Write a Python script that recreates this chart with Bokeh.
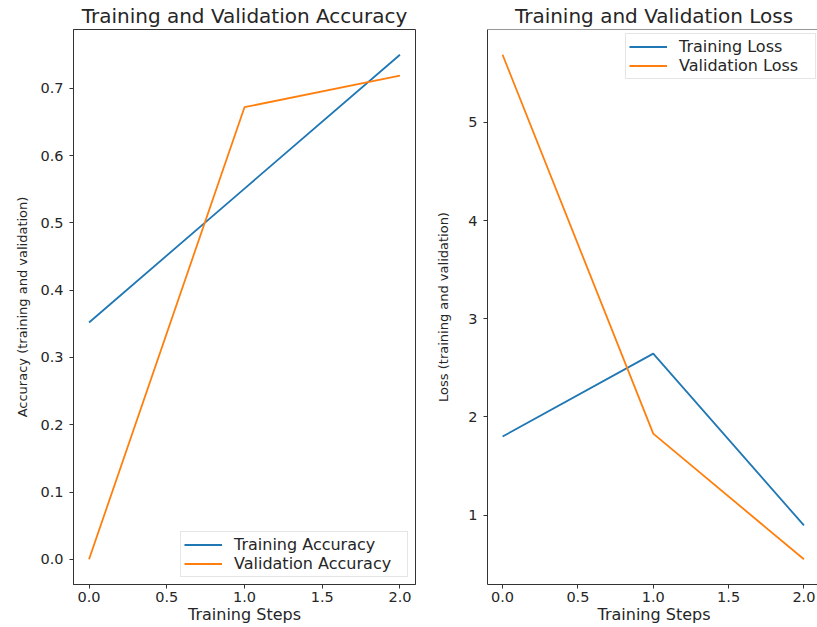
from bokeh.plotting import figure
from bokeh.layouts import row
from bokeh.models import Range1d, FixedTicker, PrintfTickFormatter, Span
from bokeh.embed import file_html
from bokeh.resources import INLINE

# ---- data ----
steps = [0, 1, 2]
train_acc = [0.352, 0.551, 0.750]
val_acc = [0.0, 0.672, 0.719]
train_loss = [1.80, 2.645, 0.895]
val_loss = [5.69, 1.83, 0.55]

step_ticks = [0.0, 0.5, 1.0, 1.5, 2.0]
acc_ticks = [0.0, 0.1, 0.2, 0.3, 0.4, 0.5, 0.6, 0.7]
loss_ticks = [1, 2, 3, 4, 5]

BLUE = "#1f77b4"
ORANGE = "#ff7f0e"
FONT = "DejaVu Sans"
SPINE = "#333333"
TEXT = "#262626"

FRAME_H = 555


def padded(lo, hi, frac=0.05):
    d = (hi - lo) * frac
    return lo - d, hi + d


def style(p, xfmt, yfmt, xticks, yticks):
    p.xgrid.visible = False
    p.ygrid.visible = False
    p.title.text_font = FONT
    p.title.text_font_size = "20px"
    p.title.text_font_style = "normal"
    p.title.text_color = TEXT
    p.title.align = "center"
    p.title.standoff = 3
    for ax in (p.xaxis[0], p.yaxis[0]):
        ax.axis_line_color = SPINE
        ax.major_tick_line_color = SPINE
        ax.major_tick_out = 4
        ax.major_tick_in = 0
        ax.minor_tick_out = 0
        ax.minor_tick_in = 0
        ax.major_label_text_font = FONT
        ax.major_label_text_font_size = "14.5px"
        ax.major_label_text_color = TEXT
        ax.axis_label_text_font = FONT
        ax.axis_label_text_font_style = "normal"
        ax.axis_label_text_color = TEXT
    p.xaxis[0].ticker = FixedTicker(ticks=xticks)
    p.yaxis[0].ticker = FixedTicker(ticks=yticks)
    p.xaxis[0].formatter = PrintfTickFormatter(format=xfmt)
    p.yaxis[0].formatter = PrintfTickFormatter(format=yfmt)
    p.xaxis[0].axis_label_text_font_size = "16px"
    p.yaxis[0].axis_label_text_font_size = "13px"
    p.xaxis[0].major_label_standoff = 3
    p.xaxis[0].axis_label_standoff = 0
    p.yaxis[0].major_label_standoff = 6


def style_legend(p, loc, margin, lw):
    lg = p.legend[0]
    lg.location = loc
    lg.margin = margin
    lg.padding = 3
    lg.spacing = 0
    lg.glyph_width = 38
    lg.glyph_height = 19
    lg.label_height = 19
    lg.label_width = lw
    lg.label_standoff = 12
    lg.label_text_font = FONT
    lg.label_text_font_size = "16px"
    lg.label_text_color = TEXT
    lg.border_line_color = "#cccccc"
    lg.background_fill_alpha = 0.8


# ---- left: accuracy ----
acc_lo, acc_hi = padded(min(train_acc + val_acc), max(train_acc + val_acc))
xs_lo, xs_hi = padded(min(steps), max(steps))
p1 = figure(frame_width=342, frame_height=FRAME_H, output_backend="svg", toolbar_location=None,
            title="Training and Validation Accuracy",
            x_range=Range1d(xs_lo, xs_hi), y_range=Range1d(acc_lo, acc_hi),
            min_border_left=73, min_border_right=18, min_border_top=29,
            min_border_bottom=42)
p1.line(steps, train_acc, line_color=BLUE, line_width=1.8, legend_label="Training Accuracy")
p1.line(steps, val_acc, line_color=ORANGE, line_width=1.8, legend_label="Validation Accuracy")
style(p1, "%.1f", "%.1f", step_ticks, acc_ticks)
p1.xaxis[0].axis_label = "Training Steps"
p1.yaxis[0].axis_label = "Accuracy (training and validation)"
p1.yaxis[0].axis_label_standoff = 7
p1.outline_line_color = SPINE
p1.outline_line_width = 1
style_legend(p1, "bottom_right", 7, 170)

# ---- right: loss (right side runs to the window edge like the reference) ----
loss_lo, loss_hi = padded(min(train_loss + val_loss), max(train_loss + val_loss))
p2 = figure(frame_width=333, frame_height=FRAME_H, output_backend="svg", toolbar_location=None,
            title="Training and Validation Loss",
            x_range=Range1d(xs_lo, xs_hi + 0.01), y_range=Range1d(loss_lo, loss_hi),
            min_border_left=51, min_border_right=0, min_border_top=29,
            min_border_bottom=42)
p2.line(steps, train_loss, line_color=BLUE, line_width=1.8, legend_label="Training Loss")
p2.line(steps, val_loss, line_color=ORANGE, line_width=1.8, legend_label="Validation Loss")
style(p2, "%.1f", "%d", step_ticks, loss_ticks)
p2.title.offset = 4
p2.xaxis[0].axis_label = "Training Steps"
p2.yaxis[0].axis_label = "Loss (training and validation)"
p2.yaxis[0].axis_label_standoff = 14
p2.outline_line_color = None
p2.add_layout(Span(location=loss_hi, dimension="width", line_color=SPINE, line_width=1))
style_legend(p2, "top_right", 4, 133)

layout = row(p1, p2)
open("out.html", "w").write(file_html(layout, INLINE))
